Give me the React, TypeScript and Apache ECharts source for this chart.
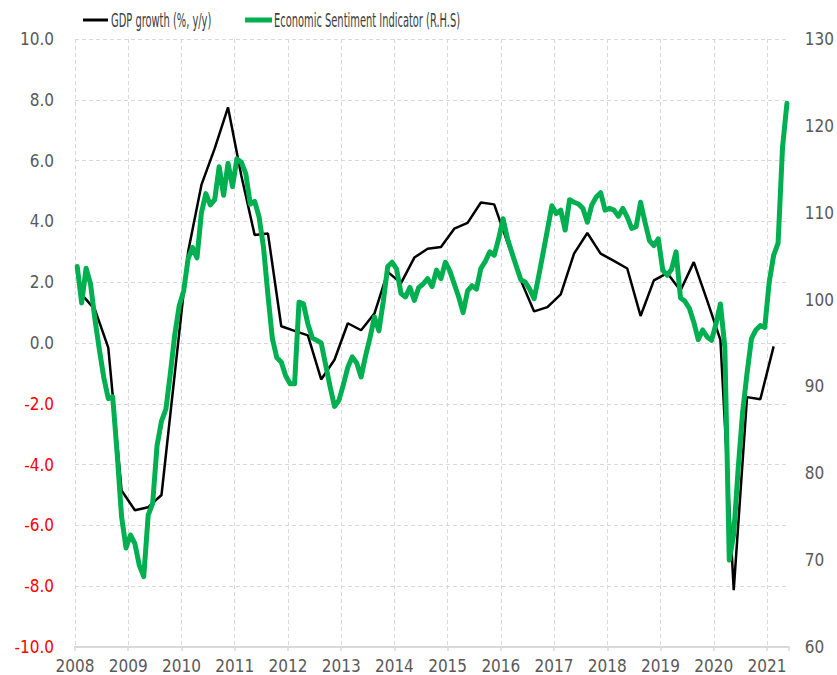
import React, { useEffect, useRef } from "react";
import * as echarts from "echarts";

const startYear = 2008;
const endYear = 2021.41;
const yearTicks = [2008, 2009, 2010, 2011, 2012, 2013, 2014, 2015, 2016, 2017, 2018, 2019, 2020, 2021];

// Quarterly GDP growth (%, y/y), 2008Q1 .. 2021Q1
const gdpGrowth = [
  1.6, 1.1, -0.15, -4.85, -5.5, -5.4, -5.0, -1.0, 3.0, 5.2, 6.4, 7.75, 5.5,
  3.55, 3.6, 0.55, 0.4, 0.25, -1.2, -0.55, 0.65, 0.42, 0.97, 2.34, 1.97,
  2.81, 3.1, 3.16, 3.76, 3.95, 4.62, 4.56, 3.3, 2.06, 1.04, 1.18, 1.6,
  2.94, 3.62, 2.94, 2.7, 2.45, 0.89, 2.06, 2.3, 1.73, 2.66, 1.4, 0.1,
  -8.13, -1.78, -1.85, -0.11,
];

// Monthly Economic Sentiment Indicator, Jan 2008 .. May 2021
const esi = [
  103.8, 99.6, 103.6, 101.8, 97.7, 94.2, 91, 88.6, 88.8, 82.3, 75, 71.4,
  72.9, 71.9, 69.4, 68.1, 75.2, 76.5, 83.2, 86, 87.4, 91.5, 96, 99.3,
  101, 104.7, 106, 104.8, 110, 112.2, 110.9, 111.5, 115.3, 112, 115.7, 113,
  116.2, 115.8, 114.5, 111, 111.3, 109.5, 106, 100.5, 95.5, 93.3, 92.8, 91.2,
  90.3, 90.3, 99.7, 99.5, 97.2, 95.6, 95.3, 95, 92.5, 90, 87.7, 88.4,
  90.2, 92.2, 93.4, 92.7, 91.1, 93.5, 95.6, 98, 96.4, 99.8, 103.8, 104.3,
  103.5, 100.7, 100.3, 101.4, 99.9, 101.4, 101.8, 102.4, 101.5, 103.4, 102.4, 104.3,
  103.3, 101.8, 100.3, 98.5, 101, 101.6, 101.2, 103.6, 104.4, 105.5, 105.1, 107,
  109.3, 107, 105.4, 103.8, 102.3, 102, 101.2, 100.1, 102.6, 105.3, 108, 110.8,
  109.9, 110.3, 108, 111.5, 111.2, 111.0, 110.5, 108.9, 110.9, 111.8, 112.3, 110.3,
  110.5, 110.3, 109.6, 110.5, 109.5, 108.2, 108.4, 111.2, 108.9, 106.8, 106.2, 107,
  103.4, 102.8, 103.5, 105.5, 100.2, 99.8, 99, 97.4, 95.4, 96.5, 95.7, 95.3,
  97.2, 99.5, 94.5, 70, 73, 80.5, 87, 91.5, 95.5, 96.5, 97, 96.8,
  102, 105.1, 106.5, 117.5, 122.6,
];

const gdpName = "GDP growth (%, y/y)";
const esiName = "Economic Sentiment Indicator (R.H.S)";

const FONT = "'DejaVu Sans Condensed', 'Liberation Sans Narrow', 'Liberation Sans', Arial, sans-serif";

export default function App() {
  const ref = useRef<HTMLDivElement>(null);

  useEffect(() => {
    if (!ref.current) return;
    const chart = echarts.init(ref.current, undefined, { renderer: "svg" });

    const gdpData = gdpGrowth.map((v, k) => [startYear + 0.125 + 0.25 * k, v]);
    const esiData = esi.map((v, m) => [startYear + (m + 0.5) / 12, v]);

    const gridColor = "#d9d9d9";
    const labelColor = "#595959";
    const legendColor = "#404040";

    chart.setOption({
      animation: false,
      backgroundColor: "#ffffff",
      grid: { left: 75, right: 47, top: 39, bottom: 28, containLabel: false },
      graphic: [
        { type: "rect", shape: { x: 83, y: 18.5, width: 25, height: 3 }, style: { fill: "#000000" } },
        {
          type: "text",
          x: 111,
          y: 20,
          scaleX: 0.55,
          style: { text: gdpName, fontSize: 20, fontFamily: FONT, fill: legendColor, align: "left", verticalAlign: "middle" },
        },
        { type: "rect", shape: { x: 245, y: 17.5, width: 27, height: 5 }, style: { fill: "#00b050" } },
        {
          type: "text",
          x: 274,
          y: 20,
          scaleX: 0.55,
          style: { text: esiName, fontSize: 20, fontFamily: FONT, fill: legendColor, align: "left", verticalAlign: "middle" },
        },
      ],
      xAxis: [
        {
          type: "value",
          min: startYear,
          max: endYear,
          interval: 1,
          axisLine: { show: false },
          axisTick: { show: false },
          axisLabel: {
            color: labelColor,
            fontSize: 17,
            fontFamily: FONT,
            margin: 10,
            showMaxLabel: false,
            formatter: (v: number) => (yearTicks.indexOf(Math.round(v * 1000) / 1000) >= 0 ? String(v) : ""),
          },
          splitLine: { show: true, showMaxLine: false, lineStyle: { color: gridColor, type: [4, 3], width: 1 } },
        },
        {
          type: "value",
          min: startYear,
          max: endYear,
          interval: 1,
          position: "bottom",
          axisLine: { show: true, onZero: true, lineStyle: { color: gridColor, width: 2 } },
          axisTick: { show: true, length: 4, lineStyle: { color: gridColor, width: 1.5 } },
          axisLabel: { show: false },
          splitLine: { show: false },
        },
      ],
      yAxis: [
        {
          type: "value",
          min: -10,
          max: 10,
          interval: 2,
          axisLine: { show: false },
          axisTick: { show: false },
          axisLabel: {
            fontSize: 17,
            fontFamily: FONT,
            margin: 21,
            formatter: (v: number) => v.toFixed(1),
            color: (v: any) => (Number(v) < 0 ? "#ff0000" : labelColor),
          },
          splitLine: { show: true, lineStyle: { color: gridColor, type: [4, 3], width: 1 } },
        },
        {
          type: "value",
          min: 60,
          max: 130,
          interval: 10,
          position: "right",
          axisLine: { show: false },
          axisTick: { show: false },
          axisLabel: { color: labelColor, fontSize: 17, fontFamily: FONT, margin: 16 },
          splitLine: { show: false },
        },
      ],
      series: [
        {
          name: gdpName,
          type: "line",
          xAxisIndex: 0,
          yAxisIndex: 0,
          data: gdpData,
          showSymbol: false,
          symbol: "none",
          lineStyle: { color: "#000000", width: 2.5 },
          itemStyle: { color: "#000000" },
          z: 3,
        },
        {
          name: esiName,
          type: "line",
          xAxisIndex: 0,
          yAxisIndex: 1,
          data: esiData,
          showSymbol: false,
          symbol: "none",
          lineStyle: { color: "#00b050", width: 5, cap: "round", join: "round" },
          itemStyle: { color: "#00b050" },
          z: 4,
        },
      ],
    });

    return () => chart.dispose();
  }, []);

  return (
    <div
      ref={ref}
      style={{ position: "absolute", left: 0, top: 0, width: 837, height: 675, background: "#fff" }}
    />
  );
}
